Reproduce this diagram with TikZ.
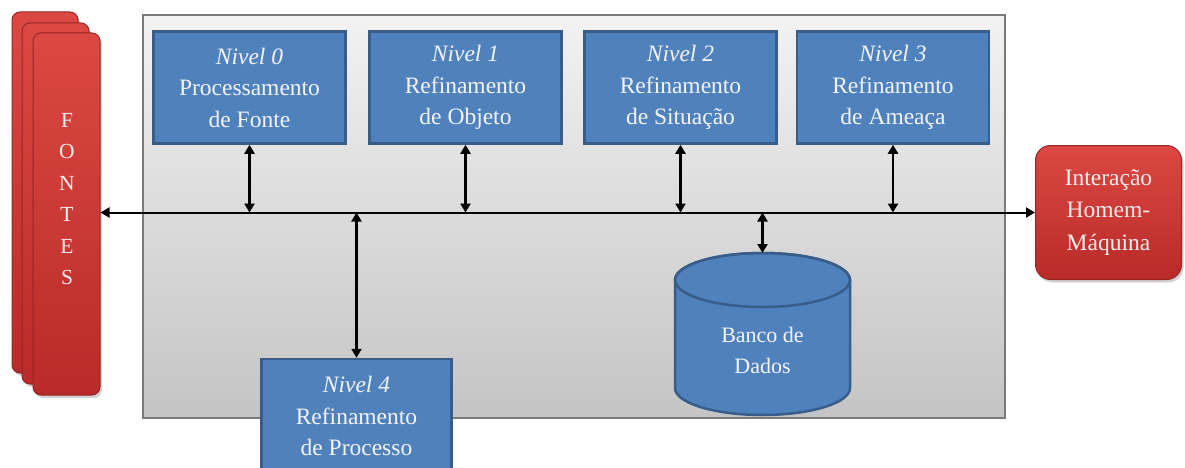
\documentclass[tikz,border=0pt]{standalone}
\usepackage{fontspec}
\setmainfont{Liberation Serif}
\usetikzlibrary{arrows.meta,shadows}
\definecolor{blueF}{HTML}{4F81BD}
\definecolor{blueD}{HTML}{385D8A}
\definecolor{redT}{HTML}{DC4843}
\definecolor{redB}{HTML}{B82B28}
\definecolor{redD}{HTML}{962624}
\definecolor{panelT}{HTML}{F2F2F2}
\definecolor{panelB}{HTML}{C4C4C4}
\definecolor{panelD}{HTML}{7A7A7A}
\definecolor{txtW}{HTML}{F4F4F8}
\definecolor{txtR}{HTML}{FBEDEE}
\begin{document}
\begin{tikzpicture}[x=1pt,y=1pt,
  txt/.style={text=txtW, font=\fontsize{23.5}{31.5}\selectfont, align=center},
  lvl/.style={txt, draw=blueD, line width=2.5pt, fill=blueF, minimum width=192pt, minimum height=112pt, inner sep=0pt},
  redbox/.style={draw=redD, line width=1pt, top color=redT, bottom color=redB, rounded corners=8pt,
     drop shadow={opacity=0.35, shadow xshift=2pt, shadow yshift=-3pt}},
  panelbox/.style={draw=panelD, line width=2pt, top color=panelT, bottom color=panelB, inner sep=0pt},
  dbl/.style={{Triangle[length=9pt,width=10pt]}-{Triangle[length=9pt,width=10pt]}, line width=2.4pt, black}]
\useasboundingbox (0,0) rectangle (1185,-468);

% panel
\node[panelbox, minimum width=862pt, minimum height=403pt] (pn) at (574,-216.5) {};

% FONTES stack
\node[redbox, minimum width=66pt, minimum height=361pt] (f1) at (45,-192.5) {};
\node[redbox, minimum width=67pt, minimum height=361pt] (f2) at (55.5,-203.5) {};
\node[redbox, minimum width=67pt, minimum height=362pt] (f3) at (66.5,-214) {};
\node[text=txtR, font=\fontsize{21.5}{31.5}\selectfont, align=center] (ft) at (67,-199) {F\\O\\N\\T\\E\\S};

% Interacao
\node[redbox, rounded corners=15pt, minimum width=146pt, minimum height=134pt, text=txtR,
  font=\fontsize{23.5}{32.5}\selectfont, align=center] (hm) at (1108.5,-212.5) {Interação\\Homem-\\Máquina};

% level boxes
\node[lvl] (n0) at (249.5,-87.5) {\textit{Nivel 0}\\Processamento\\de Fonte};
\node[lvl] (n1) at (465.5,-87.5) {\textit{Nivel 1}\\Refinamento\\de Objeto};
\node[lvl] (n2) at (680.5,-87.5) {\textit{Nivel 2}\\Refinamento\\de Situação};
\node[lvl] (n3) at (893,-87.5) {\textit{Nivel 3}\\Refinamento\\de Ameaça};
\node[lvl, minimum width=190pt, minimum height=114pt] (n4) at (356.5,-416) {\textit{Nivel 4}\\Refinamento\\de Processo};

% database
\filldraw[fill=blueF, draw=blueD, line width=2.5pt]
  (675,-280) -- (675,-388) arc[start angle=180, end angle=360, x radius=87.5, y radius=27]
  -- (850,-280) arc[start angle=0, end angle=180, x radius=87.5, y radius=27] -- cycle;
\draw[blueD, line width=2.5pt] (762.5,-280) ellipse [x radius=87.5, y radius=27];
\coordinate (dbtop) at (762.5,-253);
\node[txt, font=\fontsize{22}{31}\selectfont] (db) at (762.5,-350) {Banco de\\Dados};

% bus and connectors
\draw[dbl, line width=2pt] (f3.east |- hm.west) -- (hm.west);
\draw[dbl] (n0.south) -- (n0.south |- hm.west);
\draw[dbl] (n1.south) -- (n1.south |- hm.west);
\draw[dbl] (n2.south) -- (n2.south |- hm.west);
\draw[dbl] (n3.south) -- (n3.south |- hm.west);
\draw[dbl] (n4.north |- hm.west) -- (n4.north);
\draw[dbl] (dbtop |- hm.west) -- (dbtop);
\end{tikzpicture}
\end{document}
